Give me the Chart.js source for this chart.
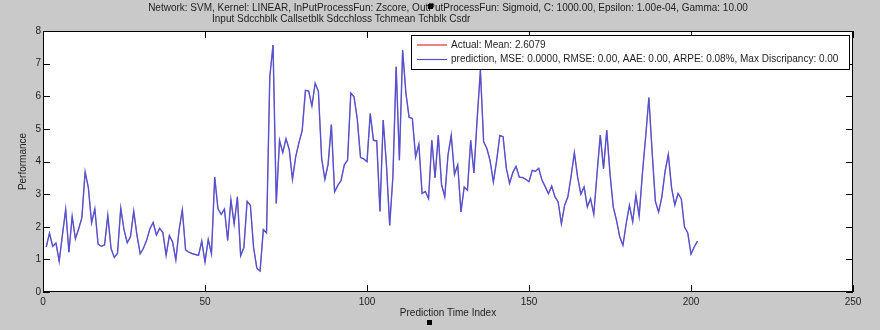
<!DOCTYPE html>
<html>
<head>
<meta charset="utf-8">
<script src="https://cdn.jsdelivr.net/npm/chart.js@4.4.0/dist/chart.umd.min.js"></script>
<style>
  html, body { margin: 0; padding: 0; background: #c9c9c9; }
  #wrap { width: 880px; height: 330px; }
</style>
</head>
<body>
<div id="wrap"><canvas id="svm-chart" width="880" height="330"></canvas></div>
<script>
const titleLine1 = "Network: SVM, Kernel: LINEAR, InPutProcessFun: Zscore, OutPutProcessFun: Sigmoid, C: 1000.00, Epsilon: 1.00e-04, Gamma: 10.00";
const titleLine2 = "Input Sdcchblk Callsetblk Sdcchloss Tchmean Tchblk Csdr";
const actualLabel = "Actual: Mean: 2.6079";
const predictionLabel = "prediction, MSE: 0.0000, RMSE: 0.00, AAE: 0.00, ARPE: 0.08%, Max Discripancy: 0.00";

const xTicks = [0, 50, 100, 150, 200, 250];
const yTicks = [0, 1, 2, 3, 4, 5, 6, 7, 8];

// prediction values, index 1..202
const predictionValues = [
  1.38, 1.80, 1.40, 1.50, 0.94, 1.75, 2.53, 1.22, 2.32, 1.63,
  1.93, 2.28, 3.68, 3.20, 2.12, 2.55, 1.47, 1.40, 1.44, 2.35,
  1.33, 1.06, 1.19, 2.57, 1.91, 1.51, 1.69, 2.48, 1.74, 1.17,
  1.34, 1.59, 1.94, 2.13, 1.75, 1.95, 1.82, 1.12, 1.73, 1.53,
  0.98, 1.90, 2.52, 1.29, 1.22, 1.18, 1.15, 1.12, 1.56, 0.92,
  1.61, 1.17, 3.52, 2.55, 2.38, 2.54, 1.58, 2.83, 2.08, 2.92,
  1.11, 1.36, 2.78, 2.66, 1.36, 0.73, 0.64, 1.91, 1.81, 6.60,
  7.57, 2.71, 4.65, 4.27, 4.70, 4.37, 3.45, 4.15, 4.58, 4.95,
  6.18, 6.16, 5.70, 6.40, 6.15, 4.10, 3.45, 3.92, 5.13, 3.07,
  3.27, 3.42, 3.90, 4.04, 6.10, 5.98, 5.30, 4.12, 4.08, 3.99,
  5.47, 4.65, 4.63, 2.47, 5.27, 3.90, 2.04, 3.55, 6.90, 4.04,
  7.41, 6.10, 5.35, 5.32, 4.14, 4.53, 3.02, 3.08, 2.86, 4.65,
  3.50, 4.80, 3.30, 2.92, 4.20, 4.81, 3.60, 3.90, 2.45, 3.22,
  3.12, 4.65, 3.65, 5.30, 6.80, 4.60, 4.40, 4.02, 3.37, 4.02,
  4.80, 4.76, 3.80, 3.33, 3.66, 3.85, 3.52, 3.51, 3.45, 3.38,
  3.73, 3.70, 3.79, 3.43, 3.23, 3.01, 3.25, 2.92, 2.76, 2.09,
  2.66, 2.92, 3.55, 4.27, 3.53, 3.00, 3.22, 2.61, 2.86, 2.38,
  3.63, 4.81, 3.78, 4.96, 3.63, 2.61, 2.20, 1.69, 1.43, 2.10,
  2.66, 2.15, 2.97, 2.32, 3.63, 4.75, 5.96, 4.30, 2.78, 2.45,
  2.91, 3.70, 4.22, 3.20, 2.66, 3.02, 2.86, 1.99, 1.81, 1.16,
  1.38, 1.56
];
// the fit is exact (MSE 0), so the red actual line sits under the blue one
const actualValues = [...predictionValues];

const redLine = "#e0302c";
const blueLine = "#5252d4";
const textColor = "#1e1e1e";
const font10 = { family: "'Liberation Sans', Arial, sans-serif", size: 10 };

const toPoints = (arr) => arr.map((v, i) => ({ x: i + 1, y: v }));

const framePlugin = {
  id: "frame",
  beforeDraw(chart) {
    const { ctx, chartArea: a } = chart;
    ctx.save();
    ctx.fillStyle = "#ffffff";
    ctx.fillRect(a.left, a.top, a.right - a.left, a.bottom - a.top);
    ctx.restore();
  },
  afterDraw(chart) {
    const { ctx, chartArea: a, scales } = chart;
    ctx.save();
    ctx.strokeStyle = "#000";
    ctx.lineWidth = 1;
    ctx.strokeRect(a.left + 0.5, a.top + 0.5, a.right - a.left - 1, a.bottom - a.top - 1);

    // inward tick marks on all four sides
    ctx.beginPath();
    scales.x.ticks.forEach((t) => {
      const px = Math.round(scales.x.getPixelForValue(t.value)) + 0.5;
      ctx.moveTo(px, a.bottom);
      ctx.lineTo(px, a.bottom - 7);
      ctx.moveTo(px, a.top);
      ctx.lineTo(px, a.top + 7);
    });
    scales.y.ticks.forEach((t) => {
      const py = Math.round(scales.y.getPixelForValue(t.value)) + 0.5;
      ctx.moveTo(a.left, py);
      ctx.lineTo(a.left + 7, py);
      ctx.moveTo(a.right, py);
      ctx.lineTo(a.right - 7, py);
    });
    ctx.stroke();

    // legend box
    const lx = 411, ly = 35, lw = 438, lh = 34;
    ctx.fillStyle = "#fff";
    ctx.fillRect(lx, ly, lw, lh);
    ctx.strokeRect(lx + 0.5, ly + 0.5, lw, lh);
    const entries = chart.data.datasets.slice().sort((p, q) => q.order - p.order);
    ctx.font = "10px 'Liberation Sans', Arial, sans-serif";
    ctx.textBaseline = "middle";
    ctx.textAlign = "left";
    entries.forEach((ds, i) => {
      const y = ly + 10 + i * 14.5;
      ctx.strokeStyle = ds.borderColor;
      ctx.lineWidth = 1.2;
      ctx.beginPath();
      ctx.moveTo(417, y);
      ctx.lineTo(447, y);
      ctx.stroke();
      ctx.fillStyle = textColor;
      ctx.fillText(ds.label, 451, y);
    });

    // figure title
    ctx.fillStyle = textColor;
    ctx.textAlign = "center";
    ctx.fillText(titleLine1, (a.left + a.right) / 2, 8);
    ctx.textAlign = "left";
    ctx.fillText(titleLine2, 212, 19);

    // small black handle marks seen in the screenshot
    ctx.fillStyle = "#000";
    ctx.fillRect(428, 4, 5, 5);
    ctx.fillRect(427, 320, 5, 5);
    ctx.restore();
  },
};

new Chart(document.getElementById("svm-chart"), {
  type: "line",
  data: {
    datasets: [
      {
        label: actualLabel,
        data: toPoints(actualValues),
        borderColor: redLine,
        borderWidth: 0.6,
        pointRadius: 0,
        tension: 0,
        order: 1,
      },
      {
        label: predictionLabel,
        data: toPoints(predictionValues),
        borderColor: blueLine,
        borderWidth: 1.4,
        pointRadius: 0,
        tension: 0,
        order: 0,
      },
    ],
  },
  options: {
    responsive: false,
    animation: false,
    devicePixelRatio: 1,
    layout: { padding: { top: 31, right: 27, left: 0, bottom: 0 } },
    plugins: {
      legend: { display: false },
      tooltip: { enabled: false },
    },
    scales: {
      x: {
        type: "linear",
        min: 0,
        max: 250,
        afterBuildTicks: (scale) => {
          scale.ticks = xTicks.map((v) => ({ value: v }));
        },
        afterFit: (scale) => {
          scale.height = 38;
        },
        grid: { drawOnChartArea: false, drawTicks: false },
        border: { display: false },
        ticks: { font: font10, color: textColor, padding: 4, maxRotation: 0 },
        title: {
          display: true,
          text: "Prediction Time Index",
          font: font10,
          color: textColor,
          padding: { top: 0, bottom: 11 },
        },
      },
      y: {
        min: 0,
        max: 8,
        afterBuildTicks: (scale) => {
          scale.ticks = yTicks.map((v) => ({ value: v }));
        },
        afterFit: (scale) => {
          scale.width = 43;
        },
        grid: { drawOnChartArea: false, drawTicks: false },
        border: { display: false },
        ticks: { font: font10, color: textColor, padding: 2 },
        title: {
          display: true,
          text: "Performance",
          font: font10,
          color: textColor,
          padding: { top: 17, bottom: 0 },
        },
      },
    },
  },
  plugins: [framePlugin],
});
</script>
</body>
</html>
